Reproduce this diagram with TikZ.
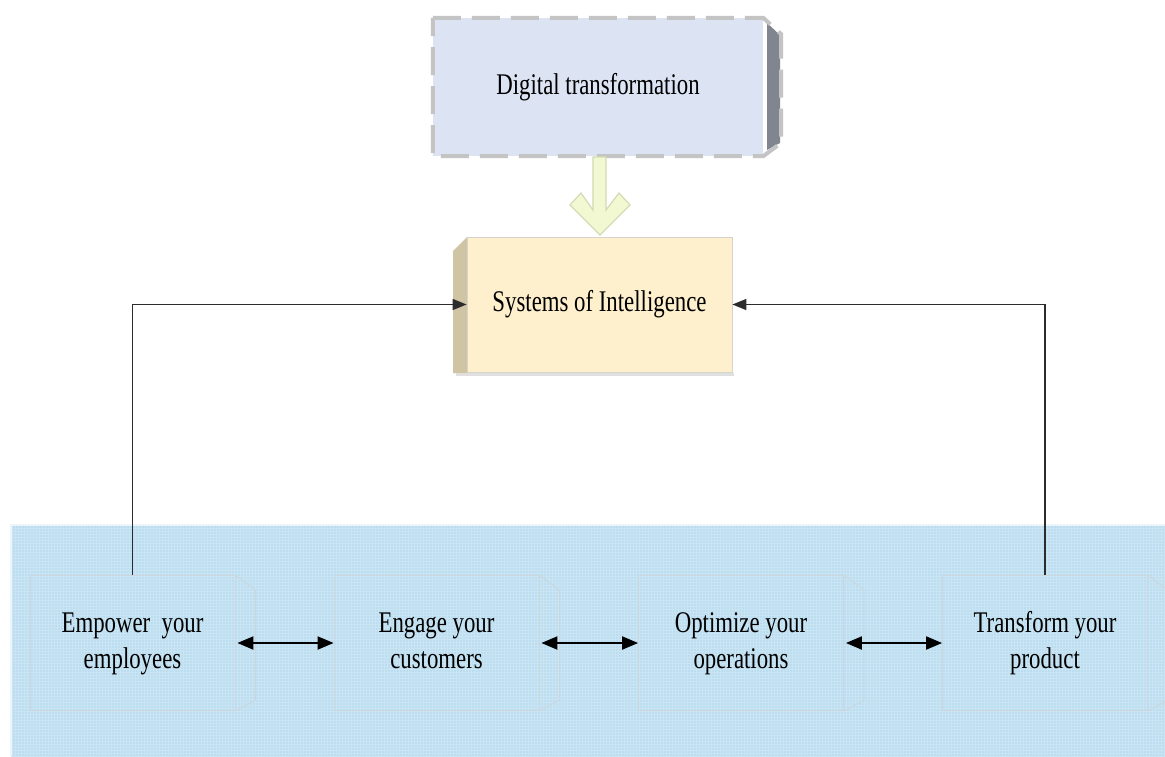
\documentclass[tikz,border=0pt]{standalone}
\usepackage{fontspec}
\setmainfont{Liberation Serif}[FakeStretch=0.76]
\usetikzlibrary{arrows.meta}
\definecolor{dtface}{HTML}{DCE3F3}
\definecolor{dtside}{HTML}{80858F}
\definecolor{dtdash}{HTML}{C4C4C4}
\definecolor{siface}{HTML}{FEF0CC}
\definecolor{siside}{HTML}{CFC5A5}
\definecolor{siline}{HTML}{D4D4CC}
\definecolor{arrfill}{HTML}{F2F9D2}
\definecolor{arrline}{HTML}{D2DBB4}
\definecolor{panel}{HTML}{BCDDEF}
\definecolor{panelgrid}{HTML}{C9E5F3}
\definecolor{boxline}{HTML}{CCD6DC}
\definecolor{conncol}{HTML}{2C2C2C}
\tikzset{
  txt/.style={font=\fontsize{30}{36}\selectfont, align=center, inner sep=0pt},
  bottombox/.style={txt, draw=boxline, line width=0.8pt, minimum width=205pt, minimum height=135pt},
  conn/.style={draw=conncol, line width=1.4pt, -{Triangle[length=14pt,width=11pt]}},
  dbl/.style={draw=black, line width=2pt, {Triangle[length=16pt,width=13pt]}-{Triangle[length=16pt,width=13pt]}},
}
\begin{document}
\begin{tikzpicture}[x=1pt,y=-1pt]
\useasboundingbox (0,0) rectangle (1165,756);
\fill[white] (0,0) rectangle (1165,756);

% bottom panel
\fill[panel] (11,525) rectangle (1165,756);
\begin{scope}
\clip (11,525) rectangle (1165,756);
\draw[panelgrid, line width=0.5pt, step=3pt] (9,523) grid (1167,758);
\end{scope}
\draw[white!70!panel, line width=2pt] (11,756) -- (11,525) -- (1165,525);

% Digital transformation box
\node[txt, fill=dtface, minimum width=330pt, minimum height=138pt] (dt) at (598,87) {\strut Digital transformation};
\fill[dtside] (767,23) -- (780,35) -- (780,143) -- (767,150) -- cycle;
\draw[dtdash, line width=4pt, dash pattern=on 28pt off 11pt]
  (dt.north west) -- (dt.north east) -- (781,34) -- (781,143) -- (dt.south east) -- (dt.south west) -- cycle;

% block arrow
\fill[arrfill, draw=arrline, line width=1.2pt]
  (593,157) -- (593,210) -- (581,193) -- (570,205) -- (600,235) -- (630,205) -- (619,193) -- (606,210) -- (606,157) -- cycle;

% Systems of Intelligence box
\fill[black!12] (456,373) rectangle (734,376);
\fill[siside] (453,251) -- (467,237) -- (467,373) -- (453,373) -- cycle;
\node[txt, fill=siface, draw=siline, line width=0.8pt, minimum width=265pt, minimum height=135pt] (si) at (599.5,304.5) {\strut Systems of Intelligence};

% bottom boxes
\node[bottombox] (b1) at (132.5,643) {\strut Empower~ your\\employees\strut};
\node[bottombox] (b2) at (436.5,643) {\strut Engage your\\customers\strut};
\node[bottombox] (b3) at (741,643) {\strut Optimize your\\operations\strut};
\node[bottombox] (b4) at (1045,643) {\strut Transform your\\product\strut};
\foreach \b in {b1,b2,b3,b4}{
  \draw[boxline, line width=0.8pt] (\b.north east) -- ++(20,15) -- ++(0,110) -- (\b.south east);
}

% connectors
\draw[conn] (b1.north) |- (si.west);
\draw[conn] (b4.north) |- (si.east);
\draw[dbl] ([xshift=2pt]b1.east) -- (b2.west);
\draw[dbl] ([xshift=2pt]b2.east) -- (b3.west);
\draw[dbl] ([xshift=2pt]b3.east) -- (b4.west);
\end{tikzpicture}
\end{document}
